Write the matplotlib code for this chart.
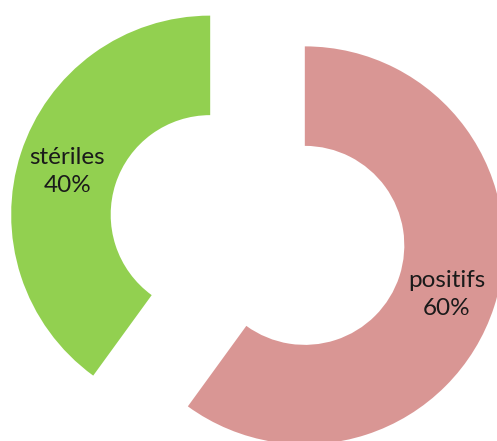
import matplotlib.pyplot as plt

# données
labels = ["positifs", "stériles"]
values = [60, 40]
colors = ["#D99694", "#92D050"]
explode = [0.25, 0.25]

fig = plt.figure(figsize=(4.97, 4.41), dpi=100)
ax = fig.add_axes([0, 0, 1, 1])

wedges, _ = ax.pie(values, colors=colors, explode=explode, startangle=90,
                   counterclock=False, radius=1.0,
                   wedgeprops=dict(width=0.5, linewidth=0))

# étiquettes (nom + pourcentage)
label_pos = [(0.95, -0.325), (-0.955, 0.295)]
for lab, v, (lx, ly) in zip(labels, values, label_pos):
    ax.text(lx, ly, f"{lab}\n{v}%", ha="center", va="center",
            fontsize=17.5, family="Lato", color="#1a1a1a", linespacing=1.4)

# 1 unité = 199 px, centre du donut à (257.5, 230) px
ax.set_xlim(-257.5 / 199, (497 - 257.5) / 199)
ax.set_ylim(-(441 - 230) / 199, 230 / 199)
ax.set_aspect("auto")
ax.axis("off")

fig.savefig("out.png", dpi=100)
